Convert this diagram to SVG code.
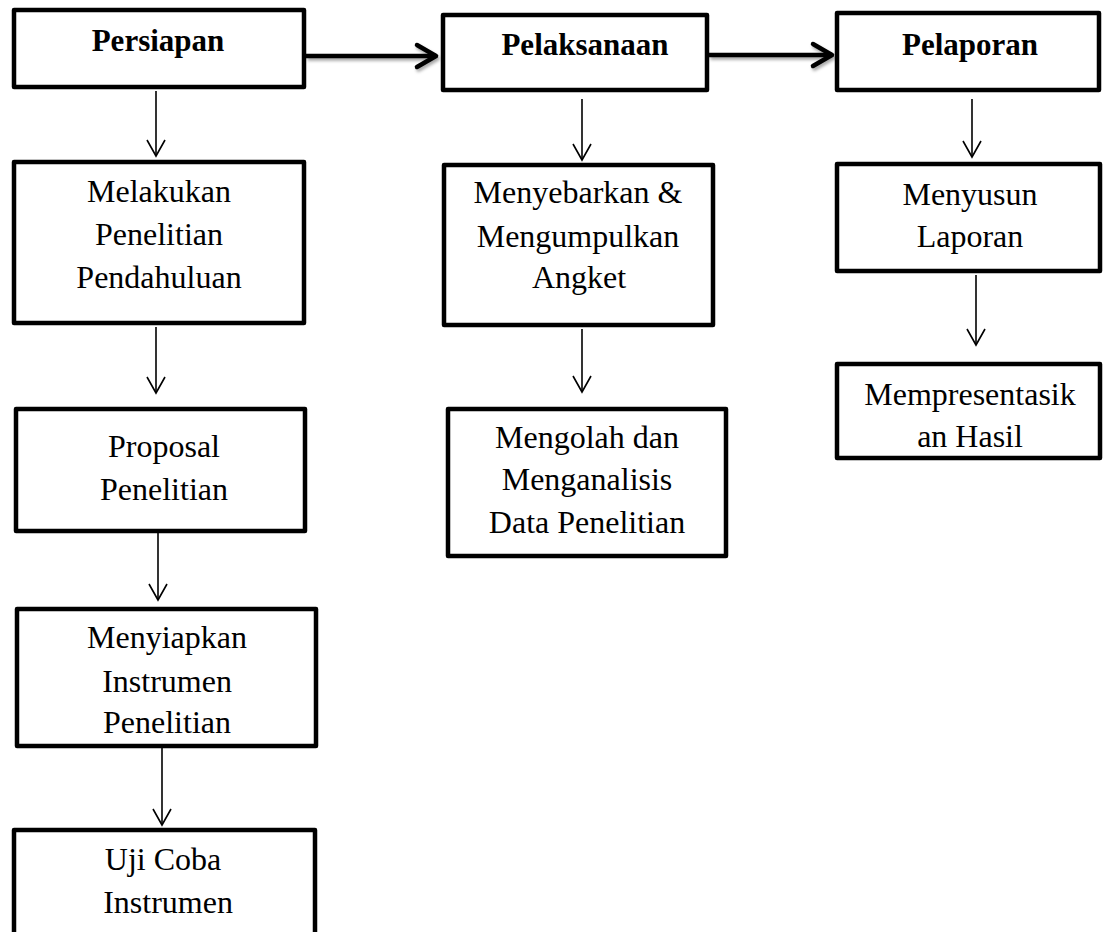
<svg xmlns="http://www.w3.org/2000/svg" width="1105" height="932" viewBox="0 0 1105 932">
<style>
.box{fill:#fff;stroke:#000;stroke-width:4.5;stroke-linejoin:round}
.t{font-family:"Liberation Serif","Times New Roman",serif;font-size:32px;fill:#000;text-anchor:middle}
.b{font-weight:bold;font-size:31px}
.thin{stroke:#000;stroke-width:1.6;fill:none}
.thick{stroke:#000;stroke-width:4.5;fill:none}
</style>
<defs>
<filter id="sh" filterUnits="userSpaceOnUse" x="0" y="0" width="1105" height="200">
<feDropShadow dx="1.5" dy="2.5" stdDeviation="1.5" flood-color="#000" flood-opacity="0.35"/>
</filter>
<marker id="ah" markerUnits="userSpaceOnUse" orient="auto" refX="0" refY="0" markerWidth="40" markerHeight="40" viewBox="-20 -20 40 40" overflow="visible">
<path d="M-16,-9 L0,0 L-16,9" fill="none" stroke="#000" stroke-width="1.6" stroke-linejoin="miter"/>
</marker>
<marker id="ahT" markerUnits="userSpaceOnUse" orient="auto" refX="0" refY="0" markerWidth="50" markerHeight="50" viewBox="-25 -25 50 50" overflow="visible">
<path d="M-19,-11 L0,0 L-19,11" fill="none" stroke="#000" stroke-width="4.5" stroke-linejoin="round" stroke-linecap="round"/>
</marker>
</defs>
<rect width="1105" height="932" fill="#fff"/>
<g id="connectors">
<g filter="url(#sh)">
<line class="thick" x1="306" y1="56" x2="436" y2="56" marker-end="url(#ahT)"/>
<line class="thick" x1="709" y1="55" x2="832" y2="55" marker-end="url(#ahT)"/>
</g>
<line class="thin" x1="156" y1="91" x2="156" y2="156" marker-end="url(#ah)"/>
<line class="thin" x1="156" y1="327" x2="156" y2="393" marker-end="url(#ah)"/>
<line class="thin" x1="158" y1="533" x2="158" y2="600" marker-end="url(#ah)"/>
<line class="thin" x1="162" y1="748" x2="162" y2="825" marker-end="url(#ah)"/>
<line class="thin" x1="582" y1="99" x2="582" y2="160" marker-end="url(#ah)"/>
<line class="thin" x1="582" y1="329" x2="582" y2="392" marker-end="url(#ah)"/>
<line class="thin" x1="972" y1="99" x2="972" y2="157" marker-end="url(#ah)"/>
<line class="thin" x1="976" y1="275" x2="976" y2="345" marker-end="url(#ah)"/>
</g>
<g id="persiapan">
<rect class="box" x="14" y="10" width="290" height="77"/>
<text class="t b" x="158" y="51">Persiapan</text>
</g>
<g id="pelaksanaan">
<rect class="box" x="443" y="15" width="264" height="75"/>
<text class="t b" x="585" y="55">Pelaksanaan</text>
</g>
<g id="pelaporan">
<rect class="box" x="837" y="13" width="262" height="77"/>
<text class="t b" x="970" y="55">Pelaporan</text>
</g>
<g id="melakukan">
<rect class="box" x="14" y="162" width="290" height="161"/>
<text class="t" x="159" y="202">Melakukan</text>
<text class="t" x="159" y="245">Penelitian</text>
<text class="t" x="159" y="288">Pendahuluan</text>
</g>
<g id="proposal">
<rect class="box" x="16" y="409" width="289" height="122"/>
<text class="t" x="164" y="457">Proposal</text>
<text class="t" x="164" y="500">Penelitian</text>
</g>
<g id="menyiapkan">
<rect class="box" x="17" y="609" width="299" height="137"/>
<text class="t" x="167" y="648">Menyiapkan</text>
<text class="t" x="167" y="692">Instrumen</text>
<text class="t" x="167" y="733">Penelitian</text>
</g>
<g id="ujicoba">
<rect class="box" x="14" y="830" width="301" height="130"/>
<text class="t" x="163" y="870">Uji Coba</text>
<text class="t" x="168" y="913">Instrumen</text>
</g>
<g id="menyebarkan">
<rect class="box" x="444" y="165" width="269" height="160"/>
<text class="t" x="578" y="203">Menyebarkan &amp;</text>
<text class="t" x="578" y="247">Mengumpulkan</text>
<text class="t" x="579" y="288">Angket</text>
</g>
<g id="mengolah">
<rect class="box" x="448" y="409" width="278" height="147"/>
<text class="t" x="587" y="448">Mengolah dan</text>
<text class="t" x="587" y="490">Menganalisis</text>
<text class="t" x="587" y="533">Data Penelitian</text>
</g>
<g id="menyusun">
<rect class="box" x="837" y="164" width="263" height="107"/>
<text class="t" x="970" y="205">Menyusun</text>
<text class="t" x="970" y="247">Laporan</text>
</g>
<g id="mempresentasikan">
<rect class="box" x="837" y="364" width="263" height="94"/>
<text class="t" x="970" y="405">Mempresentasik</text>
<text class="t" x="970" y="447">an Hasil</text>
</g>
</svg>
